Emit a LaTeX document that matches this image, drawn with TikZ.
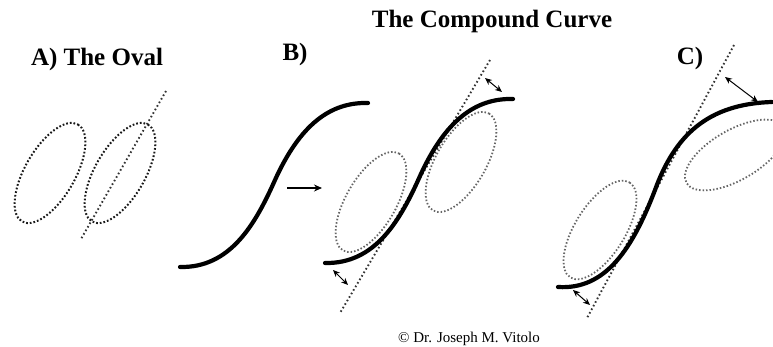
\documentclass[tikz,border=0pt]{standalone}
\usepackage{fontspec}
\setmainfont{Liberation Serif}
\usetikzlibrary{arrows.meta}
\begin{document}
\begin{tikzpicture}[x=1pt,y=-1pt,
  lbl/.style={font=\bfseries\fontsize{25}{30}\selectfont, anchor=base, inner sep=0pt},
  ovalA/.style={draw=black!90, line width=2pt, dash pattern=on 1.7pt off 2pt},
  ovalB/.style={draw=black!60, line width=1.8pt, dash pattern=on 1.5pt off 2pt},
  tangent/.style={draw=black!80, line width=1.9pt, dash pattern=on 1.6pt off 2.5pt},
  scurve/.style={draw=black, line width=4.2pt, line cap=round},
  dimarrow/.style={draw=black, line width=1pt, {Stealth[length=7pt,width=6pt]}-{Stealth[length=7pt,width=6pt]}},
  movearrow/.style={draw=black, line width=1.4pt, -{Stealth[length=8pt,width=7pt]}}
  ]
\useasboundingbox (0,0) rectangle (773,347);
\clip (0,0) rectangle (773,347);

% texts
\node[lbl] (title) at (492,28) {The Compound Curve};
\node[lbl] (labA) at (97,66) {A) The Oval};
\node[lbl] (labB) at (295,61) {B)};
\node[lbl] (labC) at (690,65) {C)};
\node[font=\fontsize{15}{18}\selectfont, anchor=base, inner sep=0pt] (copy) at (469,342) {© Dr. Joseph M. Vitolo};

% A) the oval
\draw[ovalA, rotate around={60:(50,173)}] (50,173) ellipse [x radius=56, y radius=25];
\draw[ovalA, rotate around={60:(120,173)}] (120,173) ellipse [x radius=56, y radius=25];
\coordinate (tA1) at (166,91);
\coordinate (tA2) at (81,239);
\draw[tangent] (tA1) -- (tA2);

% B) ovals and tangent
\draw[ovalB, rotate around={60:(371,202)}] (371,202) ellipse [x radius=56, y radius=25];
\draw[ovalB, rotate around={60:(461,162)}] (461,162) ellipse [x radius=56, y radius=25];
\coordinate (tB1) at (490,60);
\coordinate (tB2) at (340,313);
\draw[tangent] (tB1) -- (tB2);

% B) curves
\draw[scurve] (180,267) .. controls (230,268) and (255,225) .. (275,180) .. controls (300,125) and (330,102) .. (368,103);
\draw[scurve, shift={(145,-4)}] (180,267) .. controls (230,268) and (255,225) .. (275,180) .. controls (300,125) and (330,102) .. (368,103);

% B) arrows
\coordinate (mvS) at (287,188);
\coordinate (mvE) at (322,188);
\draw[movearrow] (mvS) -- (mvE);
\coordinate (dB1a) at (485,78);
\coordinate (dB1b) at (502,92);
\draw[dimarrow] (dB1a) -- (dB1b);
\coordinate (dB2a) at (333,270);
\coordinate (dB2b) at (348,285);
\draw[dimarrow] (dB2a) -- (dB2b);

% C) ovals and tangent
\draw[ovalB, rotate around={58:(600,230)}] (600,230) ellipse [x radius=56, y radius=25];
\draw[ovalB, rotate around={30:(735,155)}] (735,155) ellipse [x radius=56, y radius=25];
\coordinate (tC1) at (734,45);
\coordinate (tC2) at (587,318);
\draw[tangent] (tC1) -- (tC2);

% C) curve
\draw[scurve] (558,287) .. controls (605,290) and (632,250) .. (655,190) .. controls (675,135) and (708,104) .. (772,102);

% C) arrows
\coordinate (dC1a) at (725,77);
\coordinate (dC1b) at (758,102);
\draw[dimarrow] (dC1a) -- (dC1b);
\coordinate (dC2a) at (573,290);
\coordinate (dC2b) at (590,305);
\draw[dimarrow] (dC2a) -- (dC2b);
\end{tikzpicture}
\end{document}
